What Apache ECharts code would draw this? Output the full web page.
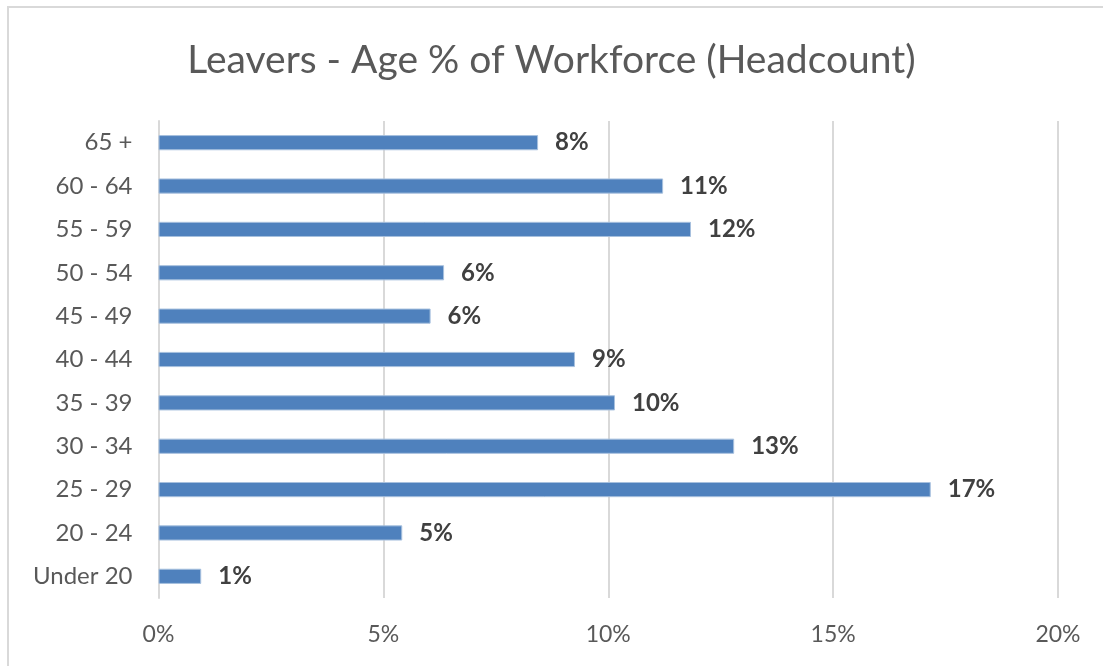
<!DOCTYPE html>
<html>
<head>
<meta charset="utf-8">
<script src="https://cdn.jsdelivr.net/npm/echarts@6/dist/echarts.min.js"></script>
<style>
html,body{margin:0;padding:0;background:#fff;}
#chart{width:1103px;height:666px;}
</style>
</head>
<body>
<div id="chart"></div>
<script>
var categories = ['Under 20','20 - 24','25 - 29','30 - 34','35 - 39','40 - 44','45 - 49','50 - 54','55 - 59','60 - 64','65 +'];
var values = [0.95, 5.42, 17.17, 12.8, 10.15, 9.26, 6.05, 6.35, 11.84, 11.22, 8.44];
var xTicks = [0, 5, 10, 15, 20];

var chart = echarts.init(document.getElementById('chart'));
var font = 'Lato, "Open Sans", sans-serif';
chart.setOption({
  animation: false,
  backgroundColor: '#ffffff',
  title: {
    text: 'Leavers - Age % of Workforce (Headcount)',
    left: 'center',
    top: 36,
    textStyle: { fontFamily: font, fontSize: 39, fontWeight: 'normal', color: '#595959' }
  },
  graphic: [{
    type: 'rect',
    shape: { x: 8, y: 7, width: 1100, height: 680 },
    style: { fill: 'none', stroke: '#d9d9d9', lineWidth: 2 },
    silent: true
  }],
  grid: { left: 158.5, right: 45, top: 121, bottom: 68, containLabel: false },
  xAxis: {
    type: 'value',
    min: xTicks[0],
    max: xTicks[xTicks.length - 1],
    interval: xTicks[1] - xTicks[0],
    axisLine: { show: false },
    axisTick: { show: false },
    splitLine: { show: true, lineStyle: { color: '#d9d9d9', width: 2 } },
    axisLabel: {
      formatter: '{value}%',
      margin: 25,
      fontFamily: font, fontSize: 23, color: '#595959'
    }
  },
  yAxis: {
    type: 'category',
    data: categories,
    axisLine: { show: true, lineStyle: { color: '#d9d9d9', width: 2 } },
    axisTick: { show: false },
    axisLabel: { margin: 26, fontFamily: font, fontSize: 24, color: '#595959' }
  },
  series: [{
    type: 'bar',
    data: values,
    barWidth: '35%',
    itemStyle: { color: '#4f81bd', borderColor: '#a7c0de', borderWidth: 1 },
    label: {
      show: true,
      position: 'right',
      distance: 17,
      formatter: function (p) { return Math.round(p.value) + '%'; },
      fontFamily: font, fontSize: 24, fontWeight: 'bold', color: '#404040'
    }
  }]
});
</script>
</body>
</html>
